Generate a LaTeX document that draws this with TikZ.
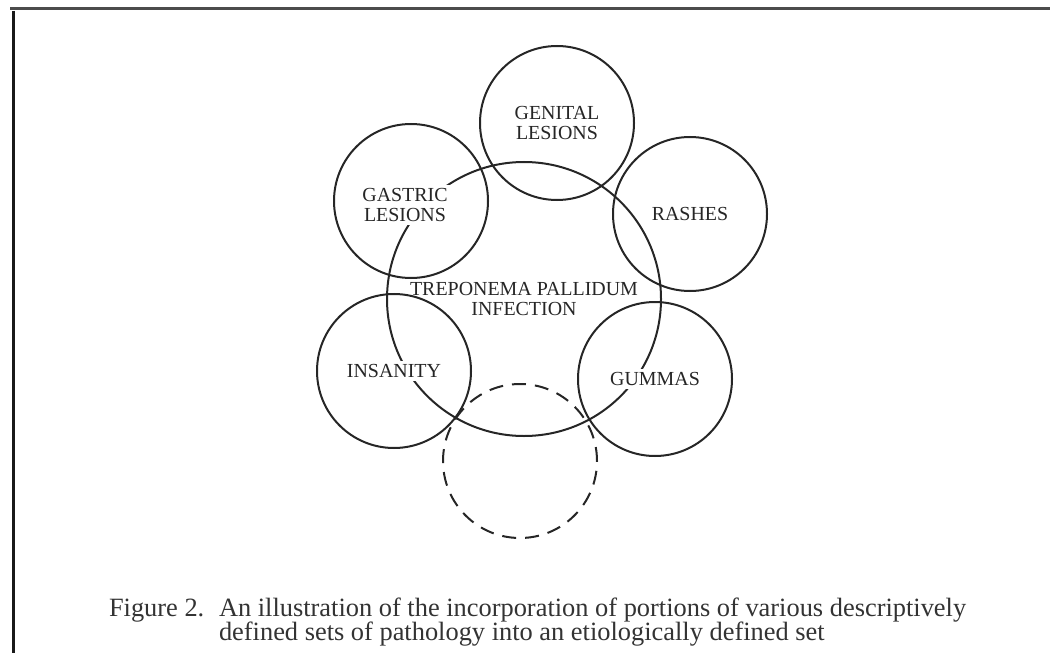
\documentclass[tikz,border=0pt]{standalone}
\usepackage{fontspec}
\setmainfont{Liberation Serif}

\begin{document}
\begin{tikzpicture}[x=1bp, y=-1bp, line width=2bp, every node/.style={font=\fontsize{20}{20}\selectfont, text=black!85, align=center},
	setc/.style={circle, draw=black!85, minimum size=154bp, inner sep=0pt},
	setlbl/.style={fill=white, inner sep=3bp},
	capt/.style={font=\fontsize{26.5}{26.5}\selectfont, text=black!80, anchor=base west, inner sep=0pt}]
	\useasboundingbox (0,0) rectangle (1050,653);
	\draw[black!70, line width=3bp] (10,9) -- (1050,9);
	\draw[black!90, line width=3bp] (13,11) -- (13,653);
	\node[setc, minimum size=274bp] (tp) at (524,299) {TREPONEMA PALLIDUM\\INFECTION};
	\node[setc] (genital) at (557,123) {};
	\node[setlbl] (genitaltxt) at (genital) {GENITAL\\LESIONS};
	\node[setc] (gastric) at (411,201) {};
	\node[setlbl] (gastrictxt) at (405,205) {GASTRIC\\LESIONS};
	\node[setc] (rashes) at (690,214) {};
	\node[setlbl] (rashestxt) at (rashes) {RASHES};
	\node[setc] (insanity) at (394,371) {};
	\node[setlbl] (insanitytxt) at (insanity) {INSANITY};
	\node[setc] (gummas) at (655,379) {};
	\node[setlbl] (gummastxt) at (gummas) {GUMMAS};
	\node[setc, dash pattern=on 14bp off 9bp] (unknown) at (520,461) {};
	\node[capt] (fignum) at (108,616) {Figure 2.};
	\node[capt] (capa) at (218,616) {An illustration of the incorporation of portions of various descriptively};
	\node[capt] (capb) at (218,640) {defined sets of pathology into an etiologically defined set};
\end{tikzpicture}
\end{document}
